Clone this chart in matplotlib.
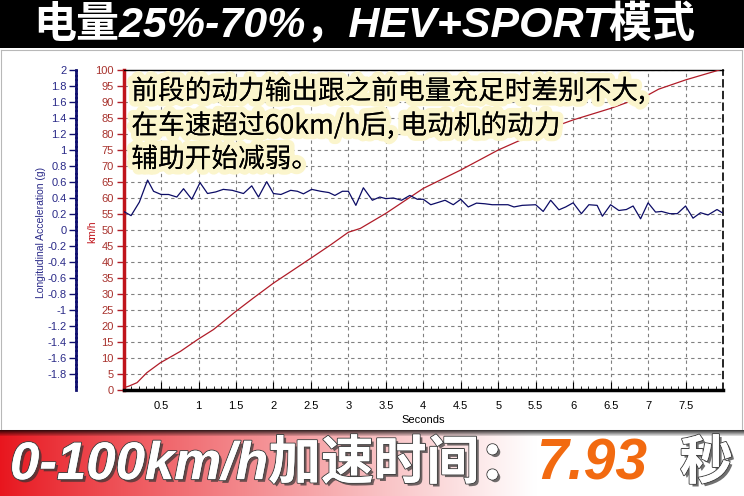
import numpy as np
import matplotlib
matplotlib.use("Agg")
import matplotlib.pyplot as plt
import matplotlib.patheffects as pe
from matplotlib.colors import to_rgb

# speed trace (km/h) vs time (s)
t_speed = [0, 0.07, 0.18, 0.31, 0.49, 0.76, 0.99, 1.2, 1.5, 1.73, 2.0, 2.27, 2.5, 2.76, 3.0,
           3.16, 3.5, 4.0, 4.5, 5.0, 5.5, 6.0, 6.5, 7.0, 7.14, 7.5, 7.95]
speed = [0.7, 1.2, 2.3, 5.4, 8.5, 12.1, 15.8, 18.9, 24.6, 28.7, 33.4, 37.6, 41.2, 45.3, 49.3,
         50.5, 55.2, 63.0, 68.75, 75.0, 80.2, 84.4, 88.0, 92.2, 94.0, 96.9, 100.0]

# longitudinal acceleration, read in km/h-grid units then converted to g
t_acc = [0, 0.1, 0.21, 0.32, 0.4, 0.5, 0.6, 0.71, 0.8, 0.91, 1.02, 1.12, 1.23, 1.33, 1.45, 1.6,
         1.71, 1.8, 1.91, 2.0, 2.1, 2.23, 2.32, 2.4, 2.51, 2.63, 2.74, 2.82, 2.92, 3.0, 3.1, 3.2,
         3.32, 3.42, 3.5, 3.6, 3.71, 3.82, 3.92, 4.0, 4.1, 4.21, 4.29, 4.4, 4.5, 4.6, 4.71, 4.82,
         4.92, 5.03, 5.13, 5.21, 5.32, 5.5, 5.6, 5.7, 5.81, 5.9, 6.0, 6.11, 6.21, 6.32, 6.39, 6.5,
         6.61, 6.71, 6.8, 6.9, 7.0, 7.1, 7.18, 7.29, 7.39, 7.5, 7.6, 7.7, 7.8, 7.92, 7.99]
acc_grid = [55.8, 54.5, 58.7, 65.6, 62.1, 61.1, 61.1, 60.3, 62.9, 59.6, 64.8, 61.4, 61.9, 62.7,
            62.4, 61.4, 63.8, 60.3, 65.1, 61.4, 61.1, 62.4, 62.1, 61.3, 62.7, 62.1, 61.7, 60.8,
            62.1, 62.1, 57.7, 63.2, 59.3, 60.3, 59.8, 60.0, 59.3, 60.8, 59.6, 59.6, 57.9, 58.7,
            59.3, 57.9, 59.6, 57.2, 58.4, 58.2, 57.9, 57.9, 57.9, 57.2, 57.7, 57.9, 55.8, 59.3,
            56.3, 57.2, 58.5, 55.1, 57.9, 57.7, 54.3, 57.9, 56.1, 56.4, 57.5, 53.5, 58.5, 55.6,
            55.8, 55.1, 55.1, 57.5, 53.7, 55.4, 54.7, 56.4, 55.4]
acc = [(v - 50) / 25 for v in acc_grid]

x_ticks = [0.5, 1, 1.5, 2, 2.5, 3, 3.5, 4, 4.5, 5, 5.5, 6, 6.5, 7, 7.5]
speed_ticks = list(range(0, 101, 5))
acc_ticks = [round(-1.8 + 0.2 * i, 1) for i in range(20)]

note = "前段的动力输出跟之前电量充足时差别不大,\n在车速超过60km/h后, 电动机的动力\n辅助开始减弱。"
title = "电量25%-70%，HEV+SPORT模式"
bottom_a = "0-100km/h加速时间："
bottom_b = "7.93"
bottom_c = "秒"

W, H = 744, 496
fig = plt.figure(figsize=(W / 100, H / 100), dpi=100)
fig.patch.set_facecolor("white")

def fx(px):
    return px / W

def fy(py):
    return 1 - py / H

cjk = ["Noto Sans CJK SC", "DejaVu Sans"]
bold_lat = ["Liberation Sans", "Noto Sans CJK SC"]

# thin grey frame round the chart panel
frame = fig.add_axes([fx(1), fy(430), fx(741), (430 - 50) / H])
frame.set_xticks([]); frame.set_yticks([])
frame.patch.set_alpha(0)
for s in frame.spines.values():
    s.set_color("#b8b8b8")
    s.set_linewidth(0.8)

# header band
hdr = fig.add_axes([0, fy(48), 1, 48 / H])
hdr.set_facecolor("black")
hdr.set_xticks([]); hdr.set_yticks([])
for s in hdr.spines.values():
    s.set_visible(False)
fig.text(fx(364), fy(25), title, color="white", fontsize=31, fontweight="heavy",
         fontstyle="italic", family=bold_lat, ha="center", va="center")

# bottom gradient band
band = fig.add_axes([0, 0, 1, 66 / H])
nx, ny = 400, 66
xs = np.linspace(0, 1, nx)
red = np.array(to_rgb("#e8161e"))
wht = np.array([1.0, 1.0, 1.0])
mix = np.clip(xs / 0.72, 0, 1) ** 0.9
row = red[None, :] * (1 - mix[:, None]) + wht[None, :] * mix[:, None]
img = np.repeat(row[None, :, :], ny, axis=0)
shade = np.ones(ny)
shade[:6] = np.linspace(0.25, 0.85, 6)
img = img * shade[:, None, None]
band.imshow(img, aspect="auto", extent=[0, 1, 0, 1])
band.set_xticks([]); band.set_yticks([])
for s in band.spines.values():
    s.set_visible(False)

shadow = [pe.withSimplePatchShadow(offset=(2, -2), shadow_rgbFace="#333333", alpha=0.7),
          pe.withStroke(linewidth=1.5, foreground="#444444"), pe.Normal()]
fig.text(fx(10), fy(465), bottom_a, color="white", fontsize=38, fontweight="heavy",
         fontstyle="italic", family=bold_lat, ha="left", va="center", path_effects=shadow)
fig.text(fx(536), fy(465), bottom_b, color="#f26a10", fontsize=41, fontweight="heavy",
         fontstyle="italic", family=bold_lat, ha="left", va="center")
fig.text(fx(680), fy(465), bottom_c, color="white", fontsize=38, fontweight="heavy",
         family=bold_lat, ha="left", va="center", path_effects=shadow)

# main chart
x0, x1, y0, y1 = 123.6, 723, 70, 390
ax = fig.add_axes([fx(x0), fy(y1), (x1 - x0) / W, (y1 - y0) / H])
ax.set_xlim(0, 8)
ax.set_ylim(0, 100)
ax.plot(t_speed, speed, color="#b01c28", lw=0.9, zorder=3)

ax.set_xticks(x_ticks)
ax.set_xticklabels([f"{v:g}" for v in x_ticks], fontsize=8, family="Liberation Sans")
ax.set_xticks(np.arange(0.1, 8, 0.1), minor=True)
ax.tick_params(axis="x", which="major", direction="in", length=6, width=0.8, pad=8)
ax.tick_params(axis="x", which="minor", direction="in", length=3, width=0.6)
ax.set_xlabel("Seconds", fontsize=8, family="Liberation Sans", labelpad=3)

ax.set_yticks(speed_ticks)
ax.set_yticklabels([str(v) for v in speed_ticks], fontsize=8, color="#a8322d",
                   family="Liberation Sans")
ax.tick_params(axis="y", direction="out", length=5, color="#b01c28", width=1, pad=2)
ax.grid(True, color="#808080", linestyle=(0, (3, 3)), linewidth=0.8)
ax.spines["left"].set_color("#c0141b")
ax.spines["left"].set_linewidth(2.5)
ax.spines["bottom"].set_linewidth(2.5)
ax.spines["top"].set_linewidth(1)
ax.spines["right"].set_linestyle((0, (4, 3)))
ax.spines["right"].set_linewidth(1.2)
fig.text(fx(92), fy(232), "km/h", color="#c0141b", fontsize=7.5, rotation=90,
         family="Liberation Sans", ha="center", va="center")

ax2 = ax.twinx()
ax2.set_ylim(-2, 2)
ax2.plot(t_acc, acc, color="#0c0c66", lw=0.9, zorder=3)
ax2.yaxis.set_ticks_position("left")
ax2.yaxis.set_label_position("left")
ax2.spines["right"].set_visible(False)
ax2.spines["top"].set_visible(False)
ax2.spines["bottom"].set_visible(False)
ax2.spines["left"].set_visible(True)
ax2.spines["left"].set_position(("outward", 34))
ax2.spines["left"].set_color("#10106e")
ax2.spines["left"].set_linewidth(2)
ax2.spines["left"].set_linestyle((0, (1, 0.6)))
ax2.set_yticks(acc_ticks)
ax2.set_yticklabels([f"{v:g}" for v in acc_ticks], fontsize=8, color="#2a2a88",
                    family="Liberation Sans")
ax2.tick_params(axis="y", direction="out", length=5, color="#10106e", width=1, pad=2)
fig.text(fx(41), fy(232), "Longitudinal Acceleration (g)", color="#2a2a88", fontsize=7.5,
         rotation=90, family="Liberation Sans", ha="center", va="center")

glow = [pe.withStroke(linewidth=8, foreground="#fbf5cc"), pe.Normal()]
ax.text(0.013, 0.978, note, transform=ax.transAxes, fontsize=19.2, family=cjk,
        color="black", ha="left", va="top", linespacing=1.3, path_effects=glow, zorder=5)

fig.savefig("out.png", dpi=100)
